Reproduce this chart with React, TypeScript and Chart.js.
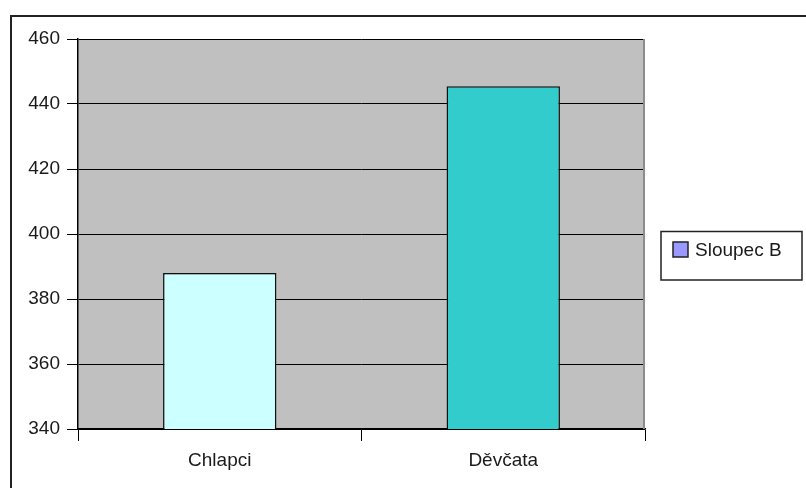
import { useEffect, useRef } from 'react';
import { Chart, registerables } from 'chart.js';

Chart.register(...registerables);

const categories = ['Chlapci', 'Děvčata'];
const values = [388, 445.5];
const barColors = ['#CCFFFF', '#33CCCC'];
const legendLabel = 'Sloupec B';
const legendColor = '#9999FF';
const yMin = 340;
const yMax = 460;
const yStep = 20;

const FONT = 'Arial, "Liberation Sans", sans-serif';

const framePlugin = {
  id: 'frame',
  beforeDraw(chart: any) {
    const { ctx, chartArea: a } = chart;
    ctx.save();
    ctx.fillStyle = '#ffffff';
    ctx.fillRect(0, 0, chart.width, chart.height);
    ctx.fillStyle = '#C0C0C0';
    ctx.fillRect(a.left, a.top, a.right - a.left, a.bottom - a.top);
    ctx.restore();
  },
  afterDraw(chart: any) {
    const { ctx, chartArea: a } = chart;
    ctx.save();
    // plot right border
    ctx.strokeStyle = '#8c8c8c';
    ctx.lineWidth = 2;
    ctx.beginPath();
    ctx.moveTo(a.right - 1, a.top);
    ctx.lineTo(a.right - 1, a.bottom);
    ctx.stroke();
    // outer frame
    ctx.strokeStyle = '#222';
    ctx.lineWidth = 2;
    ctx.strokeRect(11, 16, 1000, 1000);
    // legend
    ctx.lineWidth = 1.5;
    ctx.strokeStyle = '#222';
    ctx.strokeRect(661, 231.5, 141, 48.5);
    ctx.fillStyle = legendColor;
    ctx.fillRect(673, 242, 15, 15);
    ctx.strokeRect(673, 242, 15, 15);
    ctx.fillStyle = '#1a1a1a';
    ctx.font = `19px ${FONT}`;
    ctx.textBaseline = 'middle';
    ctx.textAlign = 'left';
    ctx.fillText(legendLabel, 695, 251);
    ctx.restore();
  },
};

export default function App() {
  const ref = useRef<HTMLCanvasElement>(null);
  useEffect(() => {
    if (!ref.current) return;
    const chart = new Chart(ref.current, {
      type: 'bar',
      data: {
        labels: categories,
        datasets: [
          {
            label: legendLabel,
            data: values,
            backgroundColor: barColors,
            borderColor: '#111',
            borderWidth: 1.5,
            barPercentage: 0.4,
            categoryPercentage: 1,
          },
        ],
      },
      options: {
        animation: false,
        responsive: false,
        layout: { padding: { left: 0, top: 39, right: 161, bottom: 0 } },
        plugins: { legend: { display: false }, tooltip: { enabled: false } },
        scales: {
          x: {
            offset: true,
            afterFit: (s: any) => {
              s.height = 59;
            },
            grid: {
              offset: true,
              drawOnChartArea: false,
              drawTicks: true,
              tickLength: 12,
              color: '#000',
              lineWidth: 1,
            },
            border: { color: '#000', width: 1.5 },
            ticks: {
              color: '#1a1a1a',
              font: { family: FONT, size: 19 },
              padding: 8,
            },
          },
          y: {
            min: yMin,
            max: yMax,
            afterFit: (s: any) => {
              s.width = 78;
            },
            grid: {
              color: '#000',
              lineWidth: 1,
              drawTicks: true,
              tickLength: 11,
            },
            border: { color: '#000', width: 1.5 },
            ticks: {
              stepSize: yStep,
              color: '#1a1a1a',
              font: { family: FONT, size: 19 },
              padding: 7,
            },
          },
        },
      },
      plugins: [framePlugin],
    });
    return () => chart.destroy();
  }, []);
  return (
    <div style={{ position: 'absolute', left: 0, top: 0, width: 806, height: 488 }}>
      <canvas ref={ref} width={806} height={488} />
    </div>
  );
}
